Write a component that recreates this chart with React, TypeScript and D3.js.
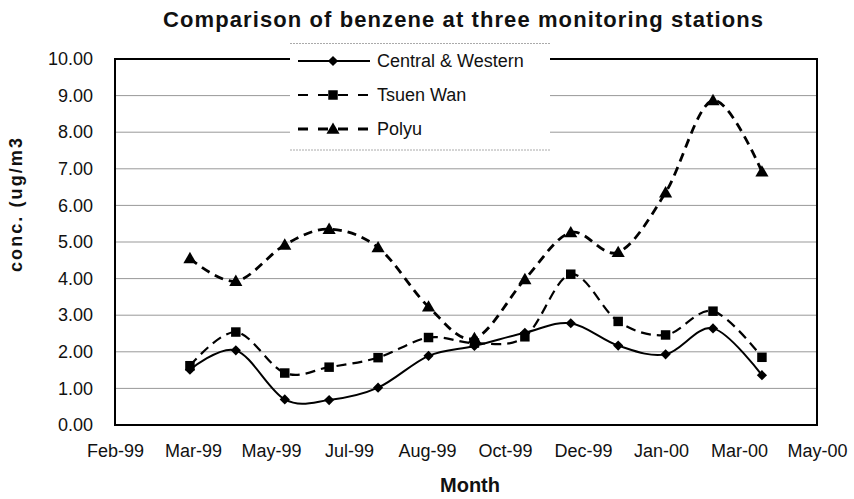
import React from 'react';
import * as d3 from 'd3';

// sampling dates (one reading per month) and the three stations
const sampleDates = [
  '1999-03-22', '1999-04-21', '1999-05-23', '1999-06-21', '1999-07-23', '1999-08-25',
  '1999-09-24', '1999-10-27', '1999-11-26', '1999-12-27', '2000-01-27', '2000-02-27', '2000-03-30',
];
const centralWestern = [1.51, 2.04, 0.70, 0.68, 1.02, 1.89, 2.16, 2.52, 2.78, 2.17, 1.93, 2.64, 1.36];
const tsuenWan = [1.62, 2.54, 1.42, 1.58, 1.84, 2.39, 2.24, 2.41, 4.12, 2.83, 2.46, 3.11, 1.85];
const polyu = [4.55, 3.93, 4.92, 5.35, 4.85, 3.23, 2.37, 3.98, 5.26, 4.72, 6.35, 8.87, 6.92];

const stationNames = ['Central & Western', 'Tsuen Wan', 'Polyu'];
const tickDates = [
  '1999-02-01', '1999-03-24', '1999-05-14', '1999-07-04', '1999-08-24',
  '1999-10-14', '1999-12-04', '2000-01-24', '2000-03-15', '2000-05-05',
];
const yTicks = [0, 1, 2, 3, 4, 5, 6, 7, 8, 9, 10];

const FONT = "'Liberation Sans', Arial, sans-serif";

export default function App() {
  const W = 854, H = 499;
  const margin = { top: 59, right: 37, bottom: 74, left: 115 };
  const width = W - margin.left - margin.right;
  const height = H - margin.top - margin.bottom;

  const ticks = tickDates.map((d) => new Date(d));
  const x = d3.scaleUtc()
    .domain([ticks[0], ticks[ticks.length - 1]])
    .range([0, width]);
  const y = d3.scaleLinear().domain([0, 10]).range([height, 0]);

  const series = [
    { name: stationNames[0], values: centralWestern, dash: null, sw: 2, shape: 'diamond' },
    { name: stationNames[1], values: tsuenWan, dash: '10,6', sw: 2.2, shape: 'square' },
    { name: stationNames[2], values: polyu, dash: '9,6', sw: 2.8, shape: 'triangle' },
  ];

  const line = d3.line<any>()
    .x((d) => x(d.date))
    .y((d) => y(d.value))
    .curve(d3.curveCatmullRom.alpha(0));

  const marker = (shape: string, key: string, cx: number, cy: number) => {
    if (shape === 'diamond') {
      return <path key={key} d={d3.symbol(d3.symbolSquare, 52)()!}
        transform={`translate(${cx},${cy}) rotate(45)`} fill="#000" />;
    }
    if (shape === 'square') {
      return <path key={key} d={d3.symbol(d3.symbolSquare, 90)()!}
        transform={`translate(${cx},${cy})`} fill="#000" />;
    }
    return <path key={key} d={d3.symbol(d3.symbolTriangle, 75)()!}
      transform={`translate(${cx},${cy + 1})`} fill="#000" />;
  };

  const styleAxis = (node: SVGGElement | null, axis: any) => {
    if (!node) return;
    const g = d3.select(node);
    g.call(axis);
    g.select('.domain').remove();
    g.selectAll('text').attr('font-size', 18).attr('font-family', FONT).attr('fill', '#111');
  };

  return (
    <svg width={W} height={H} style={{ position: 'absolute', left: 0, top: 0, background: '#fff' }}>
      <text x={463} y={27} textAnchor="middle" fontFamily={FONT} fontWeight="bold"
        fontSize={22} textLength={600} lengthAdjust="spacing" fill="#111">
        Comparison of benzene at three monitoring stations
      </text>

      <g transform={`translate(${margin.left},${margin.top})`}>
        {yTicks.slice(1, -1).map((t) => (
          <line key={`grid-${t}`} x1={0} x2={width} y1={y(t)} y2={y(t)}
            stroke="#999" strokeWidth={1} />
        ))}
        <rect x={0} y={0} width={width} height={height} fill="none" stroke="#000" strokeWidth={2} />

        <g ref={(node) => styleAxis(node, d3.axisLeft(y).tickValues(yTicks)
          .tickFormat(d3.format('.2f')).tickSize(0).tickPadding(22))} />
        <g transform={`translate(0,${height})`}
          ref={(node) => styleAxis(node, d3.axisBottom(x).tickValues(ticks)
            .tickFormat(d3.utcFormat('%b-%y') as any).tickSize(0).tickPadding(19))} />

        {series.map((s) => {
          const pts = s.values.map((v, i) => ({ date: new Date(sampleDates[i]), value: v }));
          return (
            <g key={s.name}>
              <path d={line(pts)!} fill="none" stroke="#000" strokeWidth={s.sw}
                strokeDasharray={s.dash ?? undefined} />
              {pts.map((p, i) => marker(s.shape, `${s.name}-${i}`, x(p.date), y(p.value)))}
            </g>
          );
        })}
      </g>

      {/* legend */}
      <g>
        <rect x={290} y={43} width={260} height={107} fill="#fff" />
        <line x1={290} x2={550} y1={43.5} y2={43.5} stroke="#aaa" strokeWidth={1} strokeDasharray="2,1" />
        <line x1={290} x2={550} y1={150} y2={150} stroke="#aaa" strokeWidth={1} strokeDasharray="2,1" />
        {series.map((s, i) => {
          const ly = 61 + i * 34;
          return (
            <g key={`leg-${s.name}`}>
              <line x1={298} x2={370} y1={ly} y2={ly} stroke="#000" strokeWidth={s.sw}
                strokeDasharray={s.dash ? '10,10' : undefined} />
              {marker(s.shape, `legm-${i}`, 333, ly)}
              <text x={377} y={ly + 6} fontFamily={FONT} fontSize={18} fill="#111">{s.name}</text>
            </g>
          );
        })}
      </g>

      <text transform="translate(22,205) rotate(-90)" textAnchor="middle" fontFamily={FONT}
        fontWeight="bold" fontSize={18} textLength={134} lengthAdjust="spacing" fill="#111">conc. (ug/m3</text>
      <text x={470} y={492} textAnchor="middle" fontFamily={FONT} fontWeight="bold"
        fontSize={20} fill="#111">Month</text>
    </svg>
  );
}
